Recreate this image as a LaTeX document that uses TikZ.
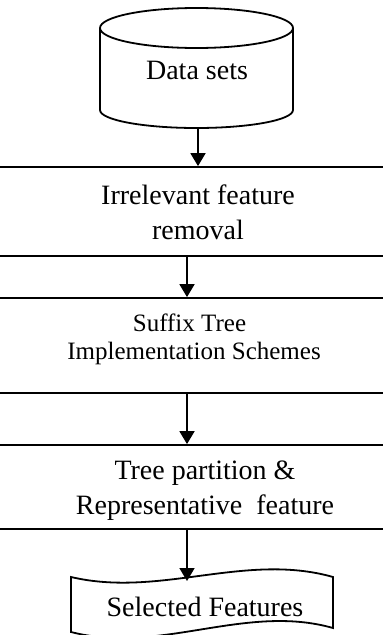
\documentclass[tikz,border=0pt]{standalone}
\usepackage{fontspec}
\setmainfont{Liberation Serif}
\usetikzlibrary{arrows.meta}
\tikzset{
  x=1pt, y=-1pt,
  outline/.style={draw=black, line width=1.8pt},
  stagebox/.style={outline, rectangle, inner sep=0pt, minimum width=395pt},
  label28/.style={inner sep=0pt, align=center, font=\fontsize{28}{35}\selectfont},
  label25/.style={inner sep=0pt, align=center, font=\fontsize{25}{28}\selectfont},
  flow/.style={line width=1.8pt, -{Triangle[width=15pt,length=13pt]}},
}
\begin{document}
\begin{tikzpicture}
\path[use as bounding box] (0,0) rectangle (383,635);
\clip (0,0) rectangle (383,635);
\fill[white] (0,0) rectangle (383,635);

% data store: a vertical cylinder
\draw[outline] (100,28) -- (100,110) arc[start angle=180, end angle=0, x radius=96.5, y radius=18] -- (293,28);
\draw[outline, fill=white] (196.5,28) ellipse[x radius=96.5, y radius=20];
\node[label28] (data) at (197,70) {Data sets};
\coordinate (databot) at (198,128);

% processing stages, wider than the page
\node[stagebox, minimum height=89pt] (stage1) at (191.5,211.5) {};
\node[label28] (t1) at (198,212.5) {Irrelevant feature\\removal};

\node[stagebox, minimum height=95pt] (stage2) at (191.5,345.5) {};
\node[label25] (t2) at (194,339) {Suffix Tree\hspace*{9pt}\\Implementation Schemes};

\node[stagebox, minimum height=84pt] (stage3) at (191.5,487) {};
\node[label28] (t3) at (205,490.5) {Tree partition \&\\Representative\ \ feature};

% output: punched-tape shape
\draw[outline, fill=white] (71,577) .. controls (160,598) and (245,552) .. (333,577)
  -- (333,628) .. controls (245,603) and (160,655) .. (71,632) -- cycle;
\node[label28] (out) at (205,607) {Selected Features};
\coordinate (outtop) at (187,581);

% connectors
\draw[flow] (databot) -- (stage1.north -| databot);
\draw[flow] (stage1.south -| 187,0) -- (stage2.north -| 187,0);
\draw[flow] (stage2.south -| 187,0) -- (stage3.north -| 187,0);
\draw[flow] (stage3.south -| outtop) -- (outtop);
\end{tikzpicture}
\end{document}
